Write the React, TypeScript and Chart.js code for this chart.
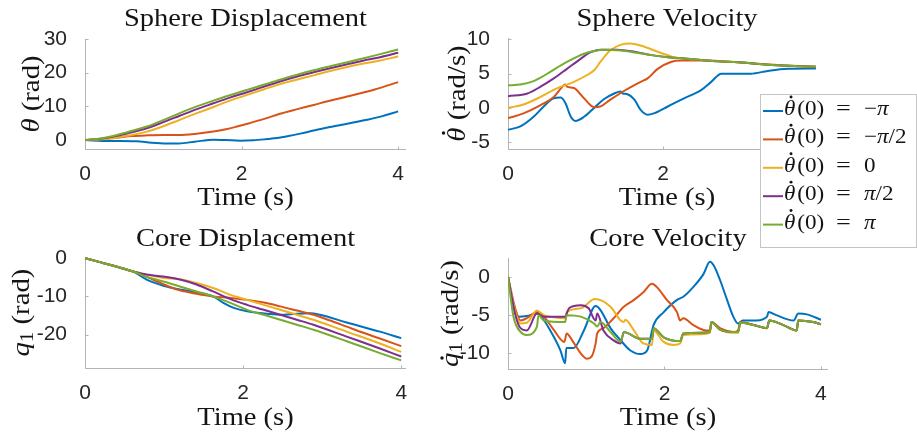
import { useEffect, useRef } from "react";
import { Chart, registerables } from "chart.js";

Chart.register(...registerables);

type Pt = [number, number];

// Initial sphere rates θ̇(0) for the five runs, and their line colours
const initialRates = ["−π", "−π/2", "0", "π/2", "π"];
const lineColors = ["#0072BD", "#D95319", "#EDB120", "#7E2F8E", "#77AC30"];

// Tick values
const timeTicks = [0, 2, 4];
const sphereDispTicks = [0, 10, 20, 30];
const sphereVelTicks = [-5, 0, 5, 10];
const coreDispTicks = [-20, -10, 0];
const coreVelTicks = [-10, -5, 0];

// Sphere displacement θ (rad) vs time (s)
const sphereDispNegPi: Pt[] = [[0, 0], [0.3, -0.3], [0.66, -0.4], [0.85, -0.8], [1.05, -1.0], [1.2, -1.0], [1.4, -0.5], [1.64, 0.1], [1.8, 0], [1.98, -0.2], [2.15, -0.1], [2.3, 0.2], [2.45, 0.6], [2.6, 1.2], [2.75, 1.9], [2.92, 2.8], [3.1, 3.7], [3.35, 4.8], [3.6, 6.0], [3.8, 7.1], [4.0, 8.5]];
const sphereDispNegHalfPi: Pt[] = [[0, 0], [0.2, 0.3], [0.4, 0.7], [0.6, 1.2], [0.8, 1.4], [1.0, 1.5], [1.2, 1.5], [1.4, 1.8], [1.64, 2.5], [1.8, 3.2], [1.94, 4.0], [2.1, 5.0], [2.28, 6.2], [2.49, 7.8], [2.7, 9.1], [2.92, 10.4], [3.1, 11.5], [3.35, 12.9], [3.7, 15.0], [4.0, 17.2]];
const sphereDispZero: Pt[] = [[0, 0], [0.15, 0.1], [0.36, 0.5], [0.55, 1.3], [0.79, 2.5], [1.0, 4.1], [1.21, 6.0], [1.42, 7.9], [1.64, 9.8], [1.85, 11.7], [2.07, 13.4], [2.28, 15.0], [2.49, 16.6], [2.7, 17.9], [2.92, 19.2], [3.13, 20.5], [3.35, 21.7], [3.56, 22.7], [3.77, 23.6], [4.0, 24.8]];
const sphereDispHalfPi: Pt[] = [[0, 0], [0.15, 0.2], [0.36, 1.0], [0.55, 2.0], [0.79, 3.5], [1.0, 5.3], [1.21, 7.2], [1.42, 9.1], [1.64, 10.9], [1.85, 12.6], [2.07, 14.2], [2.28, 15.8], [2.49, 17.4], [2.7, 18.8], [2.92, 20.1], [3.13, 21.3], [3.35, 22.5], [3.56, 23.6], [3.77, 24.6], [4.0, 25.9]];
const sphereDispPi: Pt[] = [[0, 0], [0.15, 0.3], [0.36, 1.2], [0.55, 2.4], [0.79, 4.0], [1.0, 5.9], [1.21, 8.0], [1.42, 9.9], [1.64, 11.7], [1.85, 13.3], [2.07, 14.9], [2.28, 16.4], [2.49, 17.9], [2.7, 19.3], [2.92, 20.7], [3.13, 21.9], [3.35, 23.1], [3.56, 24.3], [3.77, 25.5], [4.0, 26.9]];

// Sphere velocity θ̇ (rad/s) vs time (s)
const sphereVelNegPi: Pt[] = [[0, -3.2], [0.16, -2.7], [0.33, -1.3], [0.46, 0.2], [0.59, 1.4], [0.68, 1.5], [0.74, 0.7], [0.81, -1.3], [0.87, -1.9], [0.98, -1.3], [1.11, 0], [1.24, 1.3], [1.37, 2.1], [1.45, 2.4], [1.48, 2.1], [1.54, 2.0], [1.63, 1.2], [1.71, -0.3], [1.8, -1.0], [1.88, -0.8], [2.06, 0.2], [2.27, 1.4], [2.49, 2.6], [2.62, 3.8], [2.75, 5.0], [2.92, 5.0], [3.13, 5.0], [3.35, 5.4], [3.61, 5.7], [3.97, 5.75]];
const sphereVelNegHalfPi: Pt[] = [[0, -1.5], [0.2, -0.8], [0.42, 0.4], [0.59, 1.6], [0.72, 3.3], [0.74, 3.4], [0.76, 3.1], [0.85, 2.9], [0.98, 1.4], [1.11, 0.1], [1.19, 0.2], [1.32, 1.2], [1.5, 2.5], [1.71, 3.8], [1.8, 4.3], [1.93, 5.7], [2.1, 6.7], [2.23, 6.9], [2.49, 6.9], [2.92, 6.7], [3.35, 6.35], [3.97, 6.0]];
const sphereVelZero: Pt[] = [[0, 0], [0.2, 0.5], [0.42, 1.6], [0.63, 2.85], [0.85, 3.8], [1.02, 4.8], [1.12, 5.6], [1.19, 6.7], [1.32, 8.4], [1.45, 9.2], [1.58, 9.4], [1.71, 9.1], [1.93, 8.2], [2.14, 7.4], [2.49, 7.0], [2.92, 6.7], [3.35, 6.3], [3.97, 6.0]];
const sphereVelHalfPi: Pt[] = [[0, 1.7], [0.25, 2.1], [0.42, 3.1], [0.59, 4.3], [0.76, 5.7], [0.94, 7.2], [1.06, 8.1], [1.19, 8.5], [1.41, 8.5], [1.63, 8.2], [1.85, 7.7], [2.06, 7.4], [2.28, 7.2], [2.49, 7.0], [2.7, 6.8], [2.92, 6.7], [3.13, 6.5], [3.35, 6.3], [3.6, 6.15], [3.97, 6.0]];
const sphereVelPi: Pt[] = [[0, 3.3], [0.16, 3.4], [0.33, 3.9], [0.42, 4.4], [0.55, 5.3], [0.76, 6.7], [0.98, 7.9], [1.11, 8.3], [1.24, 8.5], [1.41, 8.4], [1.63, 8.1], [1.85, 7.7], [2.06, 7.4], [2.28, 7.2], [2.49, 7.0], [2.7, 6.8], [2.92, 6.7], [3.13, 6.5], [3.35, 6.3], [3.6, 6.15], [3.97, 6.0]];

// Core displacement q1 (rad) vs time (s)
const coreDispNegPi: Pt[] = [[0, 0], [0.2, -1.1], [0.36, -2.0], [0.61, -3.5], [0.78, -5.6], [0.99, -7.2], [1.2, -8.2], [1.41, -8.9], [1.62, -10.0], [1.75, -11.7], [1.88, -13.0], [2.05, -13.9], [2.3, -14.5], [2.47, -14.8], [2.68, -14.5], [2.85, -14.4], [2.97, -14.8], [3.31, -16.8], [3.73, -19.2], [4.0, -20.9]];
const coreDispNegHalfPi: Pt[] = [[0, 0], [0.2, -1.1], [0.36, -2.0], [0.61, -3.5], [0.78, -4.9], [0.99, -6.8], [1.2, -8.4], [1.41, -9.3], [1.62, -10.0], [1.84, -10.4], [2.05, -10.9], [2.26, -11.6], [2.47, -12.6], [2.68, -13.7], [2.89, -14.8], [3.1, -16.3], [3.31, -17.9], [3.52, -19.5], [3.73, -21.0], [4.0, -23.0]];
const coreDispZero: Pt[] = [[0, 0], [0.2, -1.1], [0.36, -2.0], [0.61, -3.5], [0.78, -4.3], [0.99, -5.2], [1.2, -5.5], [1.41, -6.5], [1.62, -7.8], [1.84, -9.6], [2.05, -10.9], [2.26, -12.2], [2.47, -13.5], [2.68, -14.8], [2.89, -16.1], [3.31, -19.2], [3.73, -22.3], [4.0, -24.5]];
const coreDispHalfPi: Pt[] = [[0, 0], [0.2, -1.1], [0.36, -2.0], [0.61, -3.5], [0.78, -4.3], [0.99, -4.8], [1.2, -5.6], [1.41, -6.9], [1.62, -8.7], [1.84, -10.7], [2.05, -12.2], [2.26, -13.5], [2.47, -14.8], [2.68, -16.1], [2.89, -17.4], [3.31, -20.5], [3.73, -23.6], [4.0, -25.7]];
const coreDispPi: Pt[] = [[0, 0], [0.2, -1.1], [0.36, -2.0], [0.61, -3.5], [0.78, -4.9], [0.99, -6.1], [1.2, -7.4], [1.41, -8.7], [1.62, -10.0], [1.84, -11.7], [2.05, -13.5], [2.26, -14.8], [2.47, -16.1], [2.68, -17.4], [2.89, -18.7], [3.31, -21.7], [3.73, -24.8], [4.0, -26.7]];

// Core velocity q̇1 (rad/s) vs time (s)
const coreVelNegPi: Pt[] = [[0, 0], [0.07, -3.9], [0.14, -5.2], [0.24, -5.1], [0.37, -4.8], [0.41, -5.0], [0.54, -7.0], [0.67, -9.6], [0.73, -11.3], [0.745, -9.3], [0.84, -9.3], [0.97, -7.0], [1.12, -3.8], [1.18, -4.3], [1.31, -6.7], [1.44, -8.3], [1.56, -9.6], [1.69, -10.1], [1.78, -9.6], [1.86, -6.3], [1.99, -4.6], [2.16, -3.0], [2.24, -2.6], [2.37, -1.3], [2.5, 0.4], [2.58, 2.0], [2.63, 1.5], [2.71, -0.4], [2.8, -3.0], [2.88, -5.2], [2.94, -6.1], [3.0, -5.7], [3.18, -5.7], [3.31, -5.2], [3.33, -4.6], [3.43, -5.0], [3.65, -5.7], [3.71, -4.8], [3.82, -4.9], [4.0, -5.6]];
const coreVelNegHalfPi: Pt[] = [[0, 0], [0.1, -4.4], [0.16, -5.7], [0.24, -5.4], [0.37, -4.6], [0.46, -5.2], [0.59, -7.0], [0.72, -8.5], [0.75, -7.4], [0.82, -8.3], [0.93, -10.0], [1.01, -10.7], [1.07, -10.4], [1.12, -8.7], [1.14, -7.4], [1.22, -6.7], [1.35, -5.4], [1.48, -3.9], [1.61, -3.0], [1.73, -2.0], [1.84, -0.9], [1.9, -1.3], [2.03, -3.0], [2.16, -4.6], [2.2, -5.7], [2.24, -5.4], [2.37, -6.3], [2.54, -7.0], [2.58, -7.0], [2.6, -5.9], [2.71, -6.7], [2.88, -7.2], [2.94, -7.0], [2.97, -5.9], [3.14, -6.3], [3.31, -6.7], [3.34, -5.7], [3.52, -6.3], [3.69, -7.0], [3.71, -5.7], [3.9, -5.9], [4.0, -6.2]];
const coreVelZero: Pt[] = [[0, 0], [0.1, -4.8], [0.16, -6.1], [0.24, -6.0], [0.37, -4.4], [0.46, -5.0], [0.73, -5.4], [0.75, -4.6], [0.93, -4.1], [1.11, -2.9], [1.31, -3.9], [1.44, -5.7], [1.48, -5.9], [1.5, -5.6], [1.61, -7.0], [1.73, -8.7], [1.84, -8.9], [1.86, -7.0], [1.99, -8.5], [2.12, -8.9], [2.2, -8.7], [2.24, -7.6], [2.46, -7.5], [2.58, -7.3], [2.6, -6.0], [2.71, -6.9], [2.88, -7.3], [2.94, -7.3], [2.97, -6.0], [3.14, -6.3], [3.31, -6.7], [3.34, -5.7], [3.52, -6.3], [3.69, -7.0], [3.71, -5.7], [3.9, -5.9], [4.0, -6.2]];
const coreVelHalfPi: Pt[] = [[0, 0], [0.1, -5.2], [0.16, -6.7], [0.24, -7.0], [0.37, -4.8], [0.46, -5.2], [0.73, -5.2], [0.78, -4.1], [0.93, -3.7], [1.03, -4.1], [1.12, -5.7], [1.14, -4.8], [1.22, -7.0], [1.35, -8.3], [1.44, -8.7], [1.48, -7.2], [1.69, -8.1], [1.84, -8.1], [1.86, -6.7], [1.99, -7.9], [2.2, -8.4], [2.24, -7.4], [2.46, -7.3], [2.58, -7.2], [2.6, -5.9], [2.71, -6.9], [2.88, -7.2], [2.94, -7.2], [2.97, -6.0], [3.14, -6.3], [3.31, -6.7], [3.34, -5.7], [3.52, -6.3], [3.69, -7.0], [3.71, -5.7], [3.9, -5.9], [4.0, -6.2]];
const coreVelPi: Pt[] = [[0, 0], [0.07, -5.2], [0.16, -7.2], [0.24, -7.6], [0.37, -6.5], [0.39, -5.0], [0.46, -5.7], [0.73, -5.9], [0.75, -5.0], [0.93, -5.2], [1.1, -6.1], [1.14, -6.5], [1.18, -5.9], [1.31, -7.2], [1.44, -8.5], [1.48, -7.2], [1.69, -8.1], [1.84, -8.1], [1.86, -6.7], [1.99, -7.9], [2.2, -8.4], [2.24, -7.4], [2.46, -7.3], [2.58, -7.2], [2.6, -5.9], [2.71, -6.9], [2.88, -7.2], [2.94, -7.2], [2.97, -6.0], [3.14, -6.3], [3.31, -6.7], [3.34, -5.7], [3.52, -6.3], [3.69, -7.0], [3.71, -5.7], [3.9, -5.9], [4.0, -6.2]];

const SERIF = '"Liberation Serif", "Times New Roman", serif';
const SANS = '"Liberation Sans", Arial, Helvetica, sans-serif';
const AXIS_COLOR = "#b3b3b3";
const TICK_TEXT = "#262626";
const TEXT = "#141414";

interface Part { text: string; italic?: boolean; sub?: boolean; dot?: number; gap?: number }

function partFont(p: Part, size: number) {
  const s = p.sub ? Math.round(size * 0.7) : size;
  return `${p.italic ? "italic " : ""}${s}px ${SERIF}`;
}

// Draws a run of mixed-style text pieces on one baseline, with optional horizontal stretch
function drawParts(ctx: CanvasRenderingContext2D, parts: Part[], x: number, y: number, size: number, sx: number, align: "left" | "center") {
  const widths = parts.map((p) => {
    ctx.font = partFont(p, size);
    return ctx.measureText(p.text).width * sx + (p.gap || 0);
  });
  const total = widths.reduce((a, b) => a + b, 0);
  let cx = align === "center" ? x - total / 2 : x;
  parts.forEach((p, i) => {
    ctx.font = partFont(p, size);
    const dy = p.sub ? size * 0.17 : 0;
    ctx.save();
    ctx.translate(cx, y + dy);
    ctx.scale(sx, 1);
    ctx.textAlign = "left";
    ctx.textBaseline = "alphabetic";
    ctx.fillText(p.text, 0, 0);
    ctx.restore();
    if (p.dot) {
      ctx.beginPath();
      ctx.arc(cx + (widths[i] - (p.gap || 0)) * 0.62, y - size * p.dot, size * 0.07, 0, Math.PI * 2);
      ctx.fill();
    }
    cx += widths[i];
  });
}

function valueParts(v: string): Part[] {
  return v.split("").map((c) => ({ text: c, italic: c === "π" }));
}

const subplotDecor = {
  id: "subplotDecor",
  beforeDatasetsDraw(chart: any) {
    const { ctx, chartArea: a, scales } = chart;
    ctx.save();
    ctx.strokeStyle = AXIS_COLOR;
    ctx.lineWidth = 1;
    ctx.beginPath();
    const lx = Math.round(a.left) + 0.5;
    const by = Math.round(a.bottom) + 0.5;
    ctx.moveTo(lx, a.top);
    ctx.lineTo(lx, by);
    ctx.lineTo(a.right, by);
    for (const t of scales.x.ticks) {
      const px = Math.round(scales.x.getPixelForValue(t.value)) + 0.5;
      ctx.moveTo(px, by);
      ctx.lineTo(px, by - 3);
    }
    for (const t of scales.y.ticks) {
      const py = Math.round(scales.y.getPixelForValue(t.value)) + 0.5;
      ctx.moveTo(lx, py);
      ctx.lineTo(lx + 3, py);
    }
    ctx.stroke();
    ctx.restore();
  },
  afterDraw(chart: any, _args: any, opts: any) {
    const { ctx, chartArea: a } = chart;
    const mid = (a.left + a.right) / 2;
    ctx.save();
    ctx.fillStyle = TEXT;
    drawParts(ctx, [{ text: opts.title }], mid, opts.titleY, 25, 1.14, "center");
    drawParts(ctx, [{ text: "Time (s)" }], mid, opts.xlabelY, 25, 1.14, "center");
    ctx.save();
    ctx.translate(opts.ylabelX, (a.top + a.bottom) / 2);
    ctx.rotate(-Math.PI / 2);
    drawParts(ctx, opts.ylabel, 0, 0, 25, 1.15, "center");
    ctx.restore();

    if (opts.legend) {
      const { x0, y0, x1, y1 } = opts.legend;
      ctx.fillStyle = "#ffffff";
      ctx.fillRect(x0, y0, x1 - x0, y1 - y0);
      ctx.strokeStyle = "#c4c4c4";
      ctx.lineWidth = 1;
      ctx.strokeRect(x0 + 0.5, y0 + 0.5, x1 - x0 - 1, y1 - y0 - 1);
      chart.data.datasets.forEach((ds: any, i: number) => {
        const ly = y0 + 17 + i * 28.4;
        ctx.strokeStyle = ds.borderColor;
        ctx.lineWidth = 2;
        ctx.beginPath();
        ctx.moveTo(x0 + 3, ly);
        ctx.lineTo(x0 + 23, ly);
        ctx.stroke();
        ctx.fillStyle = TEXT;
        const base = ly + 4;
        drawParts(ctx, [{ text: "θ", italic: true, dot: 0.86, gap: 2 }, { text: "(0)" }], x0 + 24, base, 21, 1.1, "left");
        drawParts(ctx, [{ text: "=" }], x0 + 76, base, 21, 1.25, "left");
        drawParts(ctx, valueParts(ds.label), x0 + 104, base, 21, 1.1, "left");
      });
    }
    ctx.restore();
  },
};

interface Panel {
  series: Pt[][];
  yTicks: number[];
  yMin: number;
  yMax: number;
  xMax: number;
  left: number;
  top: number;
  width: number;
  height: number;
  area: { left: number; top: number; right: number; bottom: number };
  decor: any;
}

const panels: Panel[] = [
  {
    series: [sphereDispNegPi, sphereDispNegHalfPi, sphereDispZero, sphereDispHalfPi, sphereDispPi],
    yTicks: sphereDispTicks, yMin: -2.67, yMax: 30, xMax: 4.1,
    left: 0, top: 0, width: 440, height: 220,
    area: { left: 85, top: 39, right: 406, bottom: 149 },
    decor: { title: "Sphere Displacement", titleY: 26, xlabelY: 205, ylabelX: 39, ylabel: [{ text: "θ", italic: true }, { text: " (rad)" }] },
  },
  {
    series: [coreDispNegPi, coreDispNegHalfPi, coreDispZero, coreDispHalfPi, coreDispPi],
    yTicks: coreDispTicks, yMin: -28.7, yMax: 0.3, xMax: 4.06,
    left: 0, top: 220, width: 440, height: 220,
    area: { left: 85, top: 37, right: 406, bottom: 148 },
    decor: { title: "Core Displacement", titleY: 26, xlabelY: 205, ylabelX: 29, ylabel: [{ text: "q", italic: true }, { text: "1", sub: true }, { text: " (rad)" }] },
  },
  {
    series: [coreVelNegPi, coreVelNegHalfPi, coreVelZero, coreVelHalfPi, coreVelPi],
    yTicks: coreVelTicks, yMin: -12.05, yMax: 2.48, xMax: 4.09,
    left: 440, top: 220, width: 477, height: 220,
    area: { left: 68, top: 38, right: 388, bottom: 149 },
    decor: { title: "Core Velocity", titleY: 26, xlabelY: 205, ylabelX: 18, ylabel: [{ text: "q", italic: true, dot: 0.64 }, { text: "1", sub: true }, { text: " (rad/s)" }] },
  },
  {
    series: [sphereVelNegPi, sphereVelNegHalfPi, sphereVelZero, sphereVelHalfPi, sphereVelPi],
    yTicks: sphereVelTicks, yMin: -6, yMax: 10.2, xMax: 4.1,
    left: 440, top: 0, width: 477, height: 255,
    area: { left: 68, top: 38, right: 386, bottom: 149 },
    decor: {
      title: "Sphere Velocity", titleY: 26, xlabelY: 205, ylabelX: 25,
      ylabel: [{ text: "θ", italic: true, dot: 0.86 }, { text: " (rad/s)" }],
      legend: { x0: 320, y0: 94, x1: 477, y1: 248 },
    },
  },
];

function makeConfig(p: Panel): any {
  return {
    type: "line",
    data: {
      datasets: p.series.map((s, i) => ({
        label: initialRates[i],
        data: s.map(([x, y]) => ({ x, y })),
        borderColor: lineColors[i],
        backgroundColor: lineColors[i],
        borderWidth: 2,
        pointRadius: 0,
        fill: false,
        cubicInterpolationMode: "monotone",
        order: p.series.length - 1 - i,
      })),
    },
    options: {
      responsive: false,
      animation: false,
      events: [],
      devicePixelRatio: 1,
      layout: { padding: { left: 0, top: p.area.top, right: p.width - p.area.right, bottom: 0 } },
      plugins: {
        legend: { display: false },
        tooltip: { enabled: false },
        title: { display: false },
        subplotDecor: p.decor,
      },
      scales: {
        x: {
          type: "linear",
          min: 0,
          max: p.xMax,
          grid: { display: false },
          border: { display: false },
          ticks: { font: { family: SANS, size: 21 }, color: TICK_TEXT, padding: 5, maxRotation: 0, autoSkip: false },
          afterBuildTicks: (s: any) => { s.ticks = timeTicks.map((v) => ({ value: v })); },
          afterFit: (s: any) => { s.height = p.height - p.area.bottom; },
        },
        y: {
          type: "linear",
          min: p.yMin,
          max: p.yMax,
          grid: { display: false },
          border: { display: false },
          ticks: { font: { family: SANS, size: 21 }, color: TICK_TEXT, padding: 10, autoSkip: false },
          afterBuildTicks: (s: any) => { s.ticks = p.yTicks.map((v) => ({ value: v })); },
          afterFit: (s: any) => { s.width = p.area.left; },
        },
      },
    },
    plugins: [subplotDecor],
  };
}

export default function App() {
  const r0 = useRef<HTMLCanvasElement>(null);
  const r1 = useRef<HTMLCanvasElement>(null);
  const r2 = useRef<HTMLCanvasElement>(null);
  const r3 = useRef<HTMLCanvasElement>(null);
  const refs = [r0, r1, r2, r3];

  useEffect(() => {
    const charts = panels.map((p, i) => new Chart(refs[i].current as HTMLCanvasElement, makeConfig(p)));
    return () => charts.forEach((c) => c.destroy());
  }, []);

  return (
    <div style={{ position: "absolute", left: 0, top: 0, width: 917, height: 440, background: "#ffffff", overflow: "hidden" }}>
      {panels.map((p, i) => (
        <canvas
          key={i}
          ref={refs[i]}
          width={p.width}
          height={p.height}
          style={{ position: "absolute", left: p.left, top: p.top, width: p.width, height: p.height }}
        />
      ))}
    </div>
  );
}
